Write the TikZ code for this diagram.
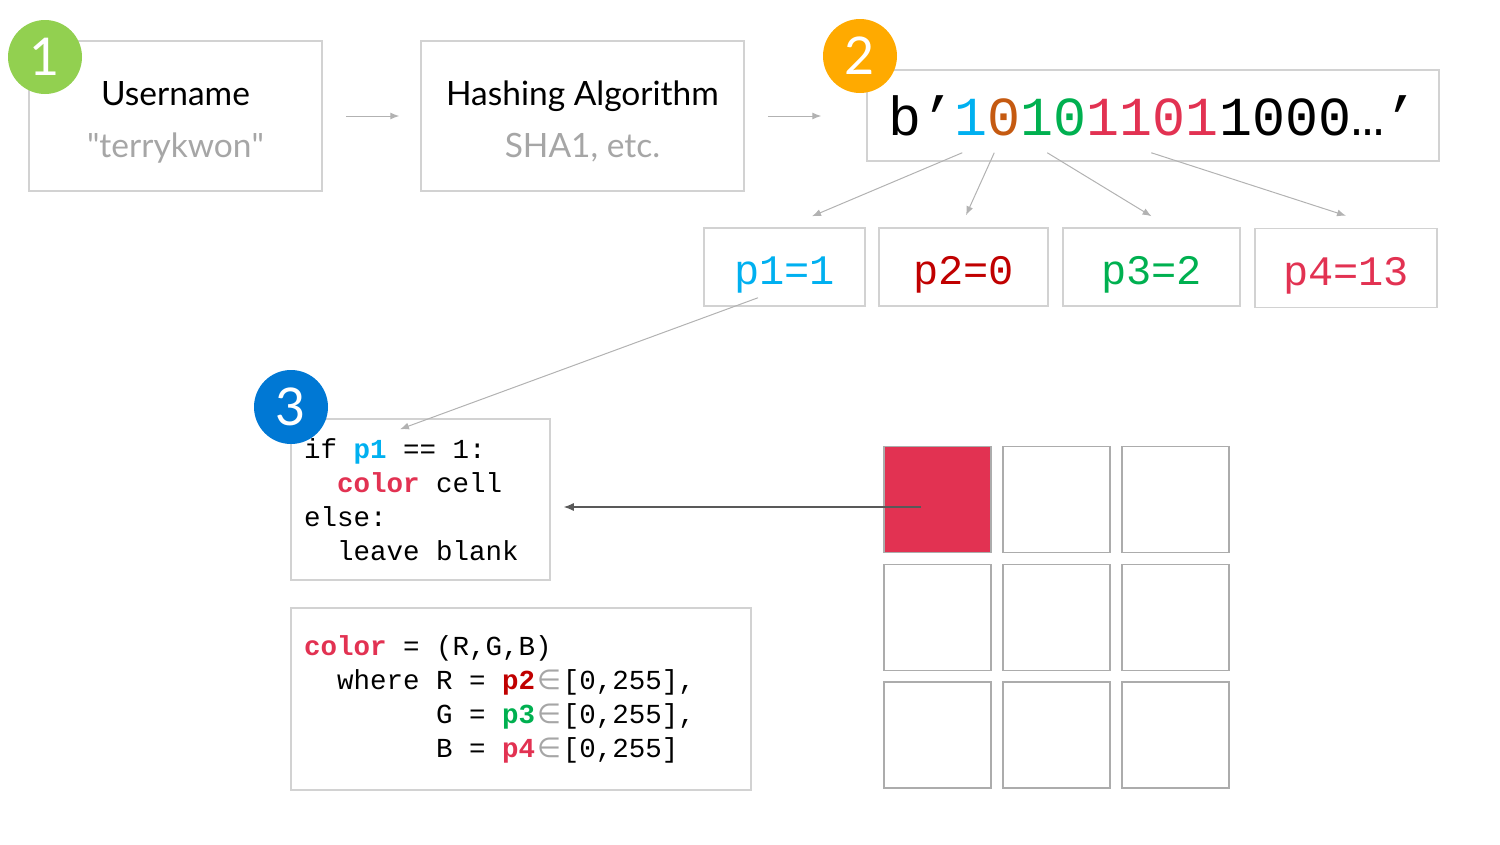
\documentclass[tikz,border=0pt]{standalone}
\usepackage{fontspec}
\setmainfont{Lato}
\setmonofont{Liberation Mono}
\newfontfamily\symfont{DejaVu Sans}
\usetikzlibrary{arrows.meta}
\usetikzlibrary{calc}
\pgfdeclarelayer{edgelayer}
\pgfdeclarelayer{nodelayer}
\pgfsetlayers{nodelayer,edgelayer,main}
\definecolor{boxgray}{RGB}{210,210,210}
\definecolor{cellgray}{RGB}{172,172,172}
\definecolor{textgray}{RGB}{166,166,166}
\definecolor{linkgray}{RGB}{178,178,178}
\definecolor{pointgray}{RGB}{89,89,89}
\definecolor{badgegreen}{RGB}{146,208,80}
\definecolor{badgeorange}{RGB}{255,170,0}
\definecolor{badgeblue}{RGB}{0,120,212}
\definecolor{bitcyan}{RGB}{0,176,240}
\definecolor{bitbrown}{RGB}{197,90,17}
\definecolor{bitgreen}{RGB}{0,176,80}
\definecolor{bitred}{RGB}{226,50,82}
\definecolor{darkred}{RGB}{192,0,0}
\newcommand{\codepad}[1]{\hspace*{#1\fontcharwd\font`x}}
\newcommand{\wsp}{\codepad{1}}
\newcommand{\elem}{\hspace{2pt}{\symfont\textcolor{textgray}{∈}}\hspace{2pt}}
\newcommand{\toppad}{\rule{0pt}{31pt}}
\tikzstyle{none}=[inner sep=0pt]
\tikzstyle{box}=[rectangle,draw=boxgray,line width=1.5pt]
\tikzstyle{titlebox}=[style=box,minimum height=150pt,align=center,text depth=0pt,font=\fontsize{33.5}{52}\selectfont]
\tikzstyle{badge}=[circle,minimum size=74pt,inner sep=0pt,text=white,font=\fontsize{52}{52}\selectfont]
\tikzstyle{cell}=[rectangle,draw=cellgray,line width=1.5pt,minimum width=107pt,minimum height=106pt]
\tikzstyle{code}=[style=box,align=left,inner xsep=13pt,font=\ttfamily\fontsize{27.5}{34}\selectfont]
\tikzstyle{pbox}=[style=box,minimum height=78pt,text height=34pt,text depth=0pt,font=\ttfamily\fontsize{42}{42}\selectfont]
\tikzstyle{link}=[-{Latex[length=9pt,width=7pt]},draw=linkgray,line width=1pt]
\tikzstyle{pointer}=[-{Latex[length=10pt,width=8pt]},draw=pointgray,line width=1.2pt]

\begin{document}
\begin{tikzpicture}[x=1pt,y=-1pt]
	\useasboundingbox (0,0) rectangle (1500,844);
	\begin{pgfonlayer}{nodelayer}
		\node [style=titlebox, minimum width=293pt] (user) at (175.5, 116) {\toppad Username\\\textcolor{textgray}{\textquotedbl terrykwon\textquotedbl}};
		\node [style=titlebox, minimum width=323pt] (hash) at (582.5, 116) {\toppad Hashing Algorithm\\\textcolor{textgray}{SHA1, etc.}};
		\node [style=box, minimum width=572pt, minimum height=91pt, font=\ttfamily\fontsize{55}{55}\selectfont] (bits) at (1153, 115.5) {b’\textcolor{bitcyan}{1}\textcolor{bitbrown}{0}\textcolor{bitgreen}{10}\textcolor{bitred}{1101}1000…’};
		\node [style=pbox, minimum width=161pt] (p1) at (784.5, 267) {\textcolor{bitcyan}{p1=1}};
		\node [style=pbox, minimum width=169pt] (p2) at (963.5, 267) {\textcolor{darkred}{p2=0}};
		\node [style=pbox, minimum width=177pt] (p3) at (1151.5, 267) {\textcolor{bitgreen}{p3=2}};
		\node [style=pbox, minimum width=182pt, minimum height=79pt] (p4) at (1346, 268) {\textcolor{bitred}{p4=13}};
		\node [style=code, text width=233pt, minimum height=161pt] (rule) at (420.5, 499.5) {if\wsp\textbf{\textcolor{bitcyan}{p1}}\wsp==\wsp1:\\\codepad{2}\textbf{\textcolor{bitred}{color}}\wsp cell\\else:\\\codepad{2}leave\wsp blank};
		\node [style=code, text width=434pt, minimum height=182pt] (rgb) at (521, 699) {\textbf{\textcolor{bitred}{color}}\wsp=\wsp(R,G,B)\\\codepad{2}where\wsp R\wsp=\wsp\textbf{\textcolor{darkred}{p2}}\elem[0,255],\\\codepad{8}G\wsp=\wsp\textbf{\textcolor{bitgreen}{p3}}\elem[0,255],\\\codepad{8}B\wsp=\wsp\textbf{\textcolor{bitred}{p4}}\elem[0,255]};
		\foreach \r/\y in {1/499.5, 2/617.5, 3/735}
			\foreach \c/\x in {1/937.5, 2/1056.5, 3/1175.5}
				\node [style=cell] (cell\r\c) at (\x, \y) {};
		\node [style=cell, fill=bitred] at (cell11) {};
		\node [style=badge, fill=badgegreen] (one) at (45, 57) {1};
		\node [style=badge, fill=badgeorange] (two) at (860, 56) {2};
		\node [style=badge, fill=badgeblue] (three) at (291, 407) {3};
	\end{pgfonlayer}
	\begin{pgfonlayer}{edgelayer}
		\draw [style=link, shorten <=23pt, shorten >=21pt] (user) to (hash);
		\draw [style=link, shorten <=23pt, shorten >=45pt] (hash.east) to (hash.east -| bits.west);
		\draw [style=link] ($(bits.south west)+(96,-9)$) to ($(p1.north)+(27.5,-11)$);
		\draw [style=link] ($(bits.south west)+(128,-9)$) to ($(p2.north)+(2.5,-12)$);
		\draw [style=link] ($(bits.south west)+(181,-9)$) to ($(p3.north)+(0,-11)$);
		\draw [style=link] ($(bits.south west)+(285,-9)$) to ($(p4.north)+(0,-12)$);
		\draw [style=link] ($(p1.south)+(-26.5,-9)$) to ($(rule.north)+(-20.5,11)$);
		\draw [style=pointer] ($(cell11.center)+(-17,7.5)$) to ($(rule.east)+(13,7.5)$);
	\end{pgfonlayer}
\end{tikzpicture}
\end{document}
